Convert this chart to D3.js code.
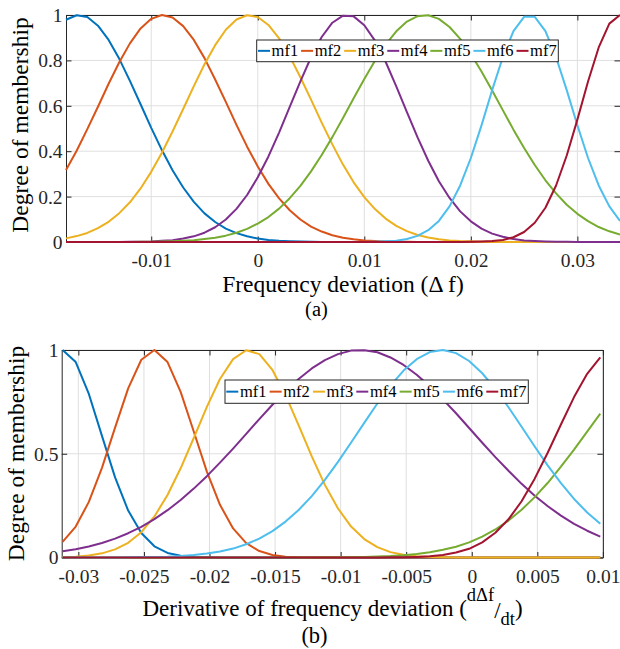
<!DOCTYPE html>
<html><head><meta charset="utf-8">
<script src="https://cdn.jsdelivr.net/npm/d3@7"></script>
<style>body{margin:0;background:#fff}svg{display:block}</style>
</head><body>
<svg id="chart" width="620" height="649"></svg>
<script>
// ---------- data ----------
const seriesNames = ["mf1","mf2","mf3","mf4","mf5","mf6","mf7"];
const seriesColors = ["#0072BD","#D95319","#EDB120","#7E2F8E","#77AC30","#4DBEEE","#A2142F"];

// (a) Frequency deviation
const freqX = [-0.018,-0.017,-0.016,-0.015,-0.014,-0.013,-0.012,-0.011,-0.010,-0.009,
-0.008,-0.007,-0.006,-0.005,-0.004,-0.003,-0.002,-0.001,0,0.001,
0.002,0.003,0.004,0.005,0.006,0.007,0.008,0.009,0.010,0.011,
0.012,0.013,0.014,0.015,0.016,0.017,0.018,0.019,0.020,0.021,
0.022,0.023,0.024,0.025,0.026,0.027,0.028,0.029,0.030,0.031,
0.032,0.033,0.034];
const freqMf1 = [0.979,0.999,0.991,0.953,0.890,0.807,0.710,0.607,0.503,0.405,
0.316,0.240,0.177,0.126,0.088,0.059,0.039,0.025,0.015,0.009,
0.005,0.003,0.002,0.001,0,0,0,0,0,0,
0,0,0,0,0,0,0,0,0,0,
0,0,0,0,0,0,0,0,0,0,
0,0,0];
const freqMf2 = [0.317,0.402,0.497,0.596,0.697,0.792,0.875,0.941,0.983,1.000,
0.989,0.951,0.890,0.810,0.716,0.617,0.516,0.420,0.333,0.256,
0.192,0.140,0.099,0.068,0.046,0.030,0.019,0.012,0.007,0.004,
0.002,0.001,0.001,0,0,0,0,0,0,0,
0,0,0,0,0,0,0,0,0,0,
0,0,0];
const freqMf3 = [0.016,0.026,0.040,0.061,0.089,0.127,0.175,0.236,0.309,0.393,
0.487,0.586,0.687,0.783,0.867,0.935,0.980,0.999,0.991,0.956,
0.897,0.818,0.726,0.627,0.526,0.430,0.341,0.263,0.198,0.145,
0.103,0.071,0.048,0.031,0.020,0.012,0.007,0.004,0.003,0.001,
0.001,0,0,0,0,0,0,0,0,0,
0,0,0];
const freqMf4 = [0,0,0,0,0,0,0.001,0.001,0.002,0.005,
0.008,0.015,0.025,0.041,0.065,0.099,0.146,0.207,0.285,0.377,
0.482,0.595,0.708,0.814,0.903,0.966,0.997,0.994,0.955,0.887,
0.794,0.686,0.572,0.461,0.358,0.268,0.194,0.135,0.091,0.059,
0.037,0.023,0.013,0.007,0.004,0.002,0.001,0.001,0,0,
0,0,0];
const freqMf5 = [0,0,0,0,0,0,0,0.001,0.001,0.002,
0.003,0.005,0.008,0.013,0.019,0.028,0.041,0.058,0.081,0.110,
0.147,0.193,0.247,0.311,0.383,0.462,0.546,0.633,0.718,0.798,
0.870,0.928,0.971,0.995,0.999,0.983,0.947,0.895,0.828,0.751,
0.667,0.581,0.495,0.414,0.339,0.272,0.214,0.164,0.124,0.092,
0.066,0.047,0.033];
const freqMf6 = [0,0,0,0,0,0,0,0,0,0,
0,0,0,0,0,0,0,0,0,0,
0,0,0,0,0,0,0,0,0,0.001,
0.003,0.006,0.013,0.027,0.052,0.093,0.157,0.249,0.370,0.514,
0.669,0.814,0.929,0.992,0.992,0.929,0.814,0.669,0.514,0.370,
0.249,0.157,0.093];
const freqMf7 = [0,0,0,0,0,0,0,0,0,0,
0,0,0,0,0,0,0,0,0,0,
0,0,0,0,0,0,0,0,0,0,
0,0,0,0,0,0,0,0,0.001,0.002,
0.004,0.009,0.021,0.044,0.085,0.151,0.249,0.381,0.539,0.707,
0.857,0.962,1.000];
const freqTicks = [-0.01,0,0.01,0.02,0.03];
const freqTickLabels = ["-0.01","0","0.01","0.02","0.03"];
const freqYTicks = [0,0.2,0.4,0.6,0.8,1];
const freqYTickLabels = ["0","0.2","0.4","0.6","0.8","1"];

// (b) Derivative of frequency deviation
const derivX = [-0.0312,-0.0302,-0.0292,-0.0282,-0.0272,-0.0262,-0.0252,-0.0242,-0.0232,-0.0222,
-0.0212,-0.0202,-0.0192,-0.0182,-0.0172,-0.0162,-0.0152,-0.0142,-0.0132,-0.0122,
-0.0112,-0.0102,-0.0092,-0.0082,-0.0072,-0.0062,-0.0052,-0.0042,-0.0032,-0.0022,
-0.0012,-0.0002,0.0008,0.0018,0.0028,0.0038,0.0048,0.0058,0.0068,0.0078,
0.0088,0.0098];
const derivMf1 = [1.000,0.942,0.788,0.586,0.386,0.226,0.118,0.054,0.022,0.008,
0.003,0.001,0,0,0,0,0,0,0,0,
0,0,0,0,0,0,0,0,0,0,
0,0,0,0,0,0,0,0,0,0,
0,0];
const derivMf2 = [0.075,0.149,0.268,0.432,0.626,0.815,0.953,1.000,0.942,0.798,
0.607,0.414,0.254,0.140,0.069,0.031,0.012,0.004,0.001,0,
0,0,0,0,0,0,0,0,0,0,
0,0,0,0,0,0,0,0,0,0,
0,0];
const derivMf3 = [0.002,0.004,0.010,0.020,0.039,0.071,0.122,0.198,0.301,0.430,
0.576,0.726,0.860,0.956,0.999,0.980,0.904,0.783,0.637,0.487,
0.350,0.236,0.149,0.089,0.050,0.026,0.013,0.006,0.003,0.001,
0,0,0,0,0,0,0,0,0,0,
0,0];
const derivMf4 = [0.030,0.040,0.053,0.070,0.091,0.117,0.148,0.185,0.228,0.277,
0.332,0.392,0.457,0.525,0.596,0.667,0.736,0.801,0.860,0.911,
0.951,0.980,0.997,0.999,0.989,0.964,0.928,0.881,0.825,0.762,
0.695,0.624,0.553,0.484,0.418,0.355,0.298,0.247,0.202,0.162,
0.129,0.101];
const derivMf5 = [0,0,0,0,0,0,0,0,0,0,
0,0,0,0,0,0,0,0,0,0,
0.001,0.001,0.002,0.003,0.005,0.007,0.011,0.017,0.025,0.037,
0.052,0.073,0.101,0.135,0.178,0.230,0.291,0.360,0.438,0.520,
0.607,0.693];
const derivMf6 = [0,0,0,0,0,0.001,0.002,0.003,0.004,0.007,
0.012,0.019,0.029,0.043,0.064,0.091,0.127,0.173,0.229,0.296,
0.374,0.461,0.554,0.649,0.742,0.828,0.901,0.956,0.990,1.000,
0.985,0.947,0.888,0.812,0.724,0.630,0.535,0.443,0.358,0.282,
0.217,0.163];
const derivMf7 = [0,0,0,0,0,0,0,0,0,0,
0,0,0,0,0,0,0,0,0,0,
0,0,0,0,0,0.001,0.001,0.003,0.006,0.012,
0.024,0.042,0.073,0.119,0.184,0.271,0.380,0.506,0.641,0.773,
0.885,0.964];
const derivTicks = [-0.03,-0.025,-0.02,-0.015,-0.01,-0.005,0,0.005,0.01];
const derivTickLabels = ["-0.03","-0.025","-0.02","-0.015","-0.01","-0.005","0","0.005","0.01"];
const derivYTicks = [0,0.5,1];
const derivYTickLabels = ["0","0.5","1"];

// ---------- drawing ----------
const FONT = "'Liberation Serif','Times New Roman',serif";
const AX = "#262626";
const svg = d3.select("#chart");
svg.append("rect").attr("width",620).attr("height",649).attr("fill","#fff");

function panel(o){
  const g = svg.append("g");
  const x = d3.scaleLinear().domain(o.xDomain).range([o.left, o.right]);
  const y = d3.scaleLinear().domain([0,1]).range([o.bottom, o.top]);

  // grid
  g.append("g").selectAll("line").data(o.xTicks).join("line")
    .attr("x1", d=>x(d)).attr("x2", d=>x(d)).attr("y1", o.top).attr("y2", o.bottom)
    .attr("stroke","#dfdfdf").attr("stroke-width",1);
  g.append("g").selectAll("line").data(o.yTicks).join("line")
    .attr("y1", d=>y(d)).attr("y2", d=>y(d)).attr("x1", o.left).attr("x2", o.right)
    .attr("stroke","#dfdfdf").attr("stroke-width",1);

  // axes (ticks inward)
  const styleAxis = sel => {
    sel.attr("font-family", FONT).attr("font-size", 19.5);
    sel.select(".domain").attr("stroke", AX).attr("stroke-width",1);
    sel.selectAll(".tick line").attr("stroke", AX).attr("stroke-width",1);
    sel.selectAll(".tick text").attr("fill", AX);
  };
  const gb = g.append("g").attr("transform",`translate(0,${o.bottom})`)
    .call(d3.axisBottom(x).tickValues(o.xTicks).tickFormat((d,i)=>o.xLabels[i]).tickSize(-5.5).tickSizeOuter(0));
  styleAxis(gb);
  gb.selectAll(".tick text").attr("y", o.xLabOff).attr("dy", null);
  const gt = g.append("g").attr("transform",`translate(0,${o.top})`)
    .call(d3.axisTop(x).tickValues(o.xTicks).tickFormat(()=> "").tickSize(-5.5).tickSizeOuter(0));
  styleAxis(gt);
  const gl = g.append("g").attr("transform",`translate(${o.left},0)`)
    .call(d3.axisLeft(y).tickValues(o.yTicks).tickFormat((d,i)=>o.yLabels[i]).tickSize(-5.5).tickSizeOuter(0));
  styleAxis(gl);
  gl.selectAll(".tick text").attr("x", -o.yLabOff).attr("dy","0.33em");
  const gr = g.append("g").attr("transform",`translate(${o.right},0)`)
    .call(d3.axisRight(y).tickValues(o.yTicks).tickFormat(()=> "").tickSize(-5.5).tickSizeOuter(0));
  styleAxis(gr);

  // curves
  const line = d3.line().x((d,i)=>x(o.xs[i])).y(d=>y(d));
  o.series.forEach((s,i)=>{
    g.append("path").attr("d", line(s)).attr("fill","none")
      .attr("stroke", seriesColors[i]).attr("stroke-width",2).attr("stroke-linejoin","round");
  });

  // legend
  const lg = g.append("g");
  lg.append("rect").attr("x",o.leg[0]).attr("y",o.leg[1]).attr("width",o.leg[2]).attr("height",o.leg[3])
    .attr("fill","#fff").attr("stroke",AX).attr("stroke-width",1);
  const pitch = o.leg[2]/seriesNames.length;
  const cy = o.leg[1] + o.leg[3]/2;
  seriesNames.forEach((n,i)=>{
    const x0 = o.leg[0] + 1.3 + i*pitch;
    lg.append("line").attr("x1",x0).attr("x2",x0+12).attr("y1",cy).attr("y2",cy)
      .attr("stroke",seriesColors[i]).attr("stroke-width",2);
    lg.append("text").attr("x",x0+13.6).attr("y",cy+5.6).attr("font-family",FONT)
      .attr("font-size",16.5).attr("fill","#000").text(n);
  });

  // y label
  svg.append("text").attr("transform",`translate(${o.yTitleX},${o.yTitleY}) rotate(-90)`)
    .attr("text-anchor","middle").attr("font-family",FONT).attr("font-size",23.5).attr("fill","#000")
    .text("Degree of membership");
  return {x,y};
}

panel({
  xDomain:[-0.018,0.034], left:66, right:620, top:15, bottom:242,
  xTicks:freqTicks, xLabels:freqTickLabels, yTicks:freqYTicks, yLabels:freqYTickLabels,
  xLabOff:24.5, yLabOff:3.5,
  xs:freqX, series:[freqMf1,freqMf2,freqMf3,freqMf4,freqMf5,freqMf6,freqMf7],
  leg:[256.7,40,301.6,21.7], yTitleX:28, yTitleY:125
});
panel({
  xDomain:[-0.03127,0.01], left:61.7, right:602.9, top:350, bottom:557.5,
  xTicks:derivTicks, xLabels:derivTickLabels, yTicks:derivYTicks, yLabels:derivYTickLabels,
  xLabOff:25.5, yLabOff:3.3,
  xs:derivX, series:[derivMf1,derivMf2,derivMf3,derivMf4,derivMf5,derivMf6,derivMf7],
  leg:[225,380,303.3,23.3], yTitleX:23.5, yTitleY:453.5
});

// axis titles and captions
svg.append("text").attr("x",343).attr("y",291.5).attr("text-anchor","middle")
  .attr("font-family",FONT).attr("font-size",23.5).attr("fill","#000")
  .text("Frequency deviation (\u0394 f)");
svg.append("text").attr("x",316.5).attr("y",316).attr("text-anchor","middle")
  .attr("font-family",FONT).attr("font-size",20.5).attr("fill","#000").text("(a)");

const bl = svg.append("text").attr("x",332.5).attr("y",616).attr("text-anchor","middle")
  .attr("font-family",FONT).attr("font-size",23).attr("fill","#000");
bl.append("tspan").text("Derivative of frequency deviation (");
bl.append("tspan").attr("dy",-15).attr("font-size",18.5).text("d\u0394f");
bl.append("tspan").attr("dy",17).text("/");
bl.append("tspan").attr("dy",7).attr("font-size",18.5).text("dt");
bl.append("tspan").attr("dy",-9).text(")");
svg.append("text").attr("x",314.5).attr("y",642.7).attr("text-anchor","middle")
  .attr("font-family",FONT).attr("font-size",22.5).attr("fill","#000").text("(b)");
</script>
</body></html>
